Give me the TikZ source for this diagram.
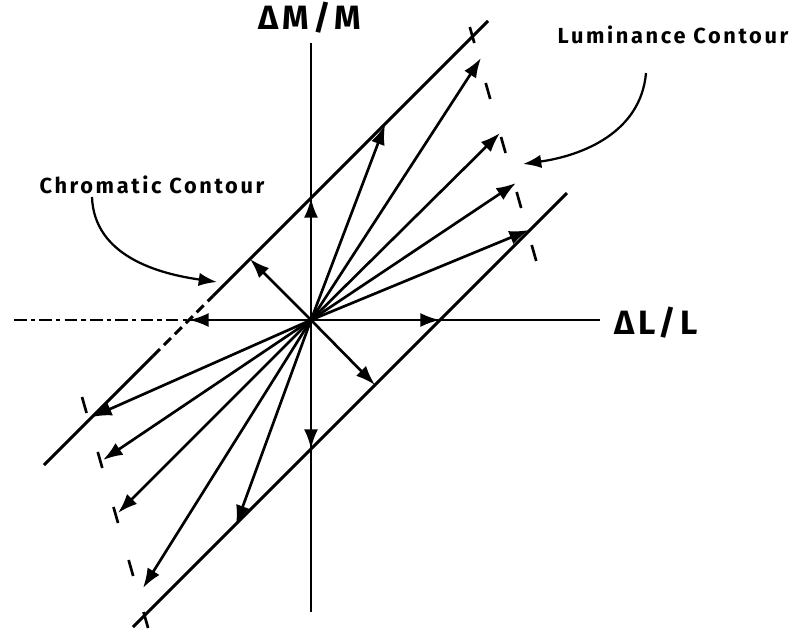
\documentclass[tikz,border=0pt]{standalone}
\usepackage{fontspec}
\newfontfamily\plotfont[LetterSpace=12]{Fira Sans}
\usetikzlibrary{arrows.meta,calc,positioning}

\begin{document}
\begin{tikzpicture}[
  x=0.25mm, y=0.25mm,
  axis/.style={line width=1.5pt},
  contour/.style={line width=2.1pt},
  vec/.style={line width=1.9pt, -{Latex[length=14pt,width=10pt]}},
  lumtick/.style={line width=1.9pt},
  note/.style={line width=1.6pt, -{Latex[length=13pt,width=9.5pt]}},
  lab/.style={font=\plotfont\bfseries\fontsize{15.5}{17}\selectfont, inner sep=0pt},
  axlab/.style={font=\plotfont\bfseries\fontsize{24}{26}\selectfont, inner sep=0pt}
]
\useasboundingbox (-311,-311) rectangle (487,320);

% axes
\coordinate (O) at (0,0);
\coordinate (xl) at (-297,0);
\coordinate (xm) at (-122,0);
\coordinate (xr) at (289,0);
\coordinate (yt) at (0,277);
\coordinate (yb) at (0,-292);
\draw[axis, dash pattern=on 9pt off 3pt on 3pt off 3pt] (xl) -- (xm);
\draw[axis] (xm) -- (xr);
\draw[axis] (yb) -- (yt);

\node[axlab] (my) at (-1,302) {ΔM/M};
\node[axlab] (lx) at (345,-3) {ΔL/L};

% chromatic contours
\coordinate (c1) at (-267,-145);
\coordinate (c2) at (-158,-36);
\coordinate (c3) at (-98,24);
\coordinate (c4) at (177,299);
\draw[contour] (c1) -- (c2);
\draw[contour, dash pattern=on 7pt off 4pt] (c2) -- (c3);
\draw[contour] (c3) -- (c4);
\coordinate (d1) at (-178,-307);
\coordinate (d2) at (256,127);
\draw[contour] (d1) -- (d2);

% luminance contours
\foreach \t in {285,229,175,120,67}
  \draw[lumtick] ({242-0.284*(\t+8)},{\t+8}) -- ({242-0.284*(\t-8)},{\t-8});
\foreach \t in {-85,-140,-195,-248,-300}
  \draw[lumtick] ({-251-0.286*(\t+8)},{\t+8}) -- ({-251-0.286*(\t-8)},{\t-8});

% vectors
\foreach \x/\y [count=\i] in {0/122, 74/195, 170/262, 189/187, 205/137, 218/90,
    129/0, 64/-65, 0/-129, -75/-205, -168/-268, -193/-193, -208/-140,
    -219/-97, -122/0, -61/61}
  \coordinate (t\i) at (\x,\y);
\foreach \i in {1,...,16}
  \draw[vec] (O) -- (t\i);

% labels
\node[lab] (lum) at (362,285) {Luminance Contour};
\node[lab] (chr) at (-159,135) {Chromatic Contour};
\coordinate (lumfoot) at (335,247);
\coordinate (lumtip) at (212,156);
\coordinate (chrfoot) at (-219,123);
\coordinate (chrtip) at (-94,38);
\draw[note] (lumfoot) to[out=-95, in=8] (lumtip);
\draw[note] (chrfoot) to[out=-88, in=172] (chrtip);

\end{tikzpicture}
\end{document}
